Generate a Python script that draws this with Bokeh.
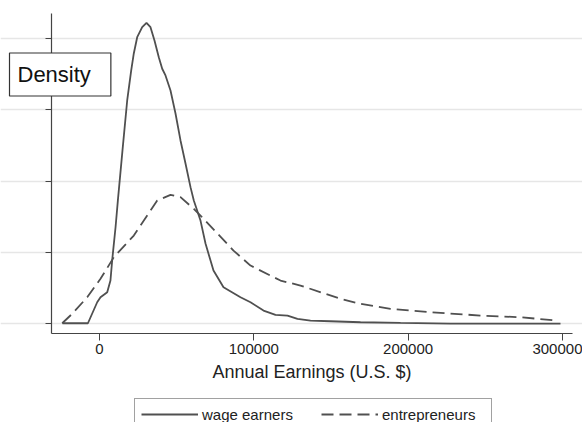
from bokeh.plotting import figure
from bokeh.models import (Range1d, FixedTicker, Label, Legend, LegendItem, ColumnDataSource,
                          BasicTickFormatter)
from bokeh.embed import file_html
from bokeh.resources import INLINE

# Annual earnings (U.S. $) and kernel density (in units of 1e-5)
wage_x = [-24000, -7500, -1500, 650, 5000, 7100, 8200, 10400, 11900, 14900, 17950,
          20550, 22230, 24430, 27670, 30460, 33050, 35640, 38430, 40640, 42770,
          46020, 49260, 52500, 55740, 58980, 61120, 65460, 68700, 73880, 80360,
          91380, 97860, 106290, 114070, 121840, 128320, 136750, 149710, 169150,
          195080, 227480, 298770]
wage_y = [0.004, 0.004, 0.151, 0.186, 0.221, 0.303, 0.443, 0.676, 0.863, 1.214, 1.564,
          1.774, 1.893, 2.007, 2.077, 2.108, 2.077, 1.984, 1.867, 1.786, 1.739,
          1.634, 1.473, 1.284, 1.123, 0.957, 0.863, 0.723, 0.562, 0.373, 0.256,
          0.186, 0.151, 0.093, 0.063, 0.058, 0.035, 0.023, 0.018, 0.011,
          0.006, 0.002, 0.002]

entre_x = [-24170, -17690, -7970, 650, 9270, 22230, 30910, 37400, 46020, 52500,
           61120, 65460, 86850, 97860, 117300, 130270, 156190, 169150, 188600,
           214520, 246930, 272850, 296630]
entre_y = [0.004, 0.070, 0.186, 0.315, 0.466, 0.618, 0.758, 0.863, 0.903, 0.887,
           0.805, 0.758, 0.513, 0.408, 0.303, 0.268, 0.175, 0.140, 0.105,
           0.081, 0.058, 0.046, 0.023]

x_ticks = [0, 100000, 200000, 300000]
y_ticks = [0, 0.5, 1.0, 1.5, 2.0]

# plotted region (axes extent)
X_AXIS_START, X_AXIS_END = -31110, 306550
Y_AXIS_START, Y_AXIS_END = -0.068, 2.175

FONT = "Liberation Sans"
LINE = "#505050"

p = figure(width=582, height=422, output_backend="svg", toolbar_location=None,
           x_range=Range1d(-64160, 313030), y_range=Range1d(-0.691, 2.264),
           min_border=0)
p.title.visible = False
p.outline_line_color = None
p.background_fill_color = "white"
p.border_fill_color = "white"

# grid
p.xgrid.visible = False
p.ygrid.grid_line_color = "#e6e6e6"
p.ygrid.grid_line_width = 1.5
p.ygrid.bounds = (X_AXIS_START, 305260)

# x axis
xa = p.xaxis[0]
xa.fixed_location = Y_AXIS_START
xa.bounds = (X_AXIS_START, X_AXIS_END)
xa.ticker = FixedTicker(ticks=x_ticks)
xa.formatter = BasicTickFormatter(use_scientific=False)
xa.minor_tick_line_color = None
xa.major_tick_out = 7
xa.major_tick_in = 0
xa.axis_line_color = "#444444"
xa.major_tick_line_color = "#444444"
xa.axis_line_width = 1.2
xa.major_label_text_font = FONT
xa.major_label_text_font_size = "15px"
xa.major_label_text_color = "#222222"
xa.major_label_standoff = 3
xa.axis_label = "Annual Earnings (U.S. $)"
xa.axis_label_text_font = FONT
xa.axis_label_text_font_size = "18px"
xa.axis_label_text_font_style = "normal"
xa.axis_label_text_color = "#222222"
xa.axis_label_standoff = 5

# y axis (no tick labels)
ya = p.yaxis[0]
ya.fixed_location = X_AXIS_START
ya.bounds = (Y_AXIS_START, Y_AXIS_END)
ya.ticker = FixedTicker(ticks=y_ticks)
ya.major_label_overrides = {t: "" for t in y_ticks}
ya.minor_tick_line_color = None
ya.major_tick_out = 6
ya.major_tick_in = 0
ya.axis_line_color = "#444444"
ya.major_tick_line_color = "#444444"
ya.axis_line_width = 1.2
ya.major_label_standoff = 0

src_w = ColumnDataSource(dict(x=wage_x, y=wage_y))
src_e = ColumnDataSource(dict(x=entre_x, y=entre_y))
r_w = p.line("x", "y", source=src_w, line_color=LINE, line_width=1.8)
r_e = p.line("x", "y", source=src_e, line_color=LINE, line_width=1.8, line_dash="12 6")

legend = Legend(items=[LegendItem(label="wage earners", renderers=[r_w]),
                       LegendItem(label="entrepreneurs", renderers=[r_e])],
                orientation="horizontal", location=(134, -8),
                label_text_font=FONT, label_text_font_size="15px", label_text_color="#222222",
                glyph_width=57, glyph_height=18, label_height=18, label_standoff=4,
                label_width=103, spacing=16, padding=6, margin=0,
                border_line_color="#444444", border_line_width=1.2,
                background_fill_color="white", background_fill_alpha=1.0)
p.add_layout(legend, "center")

dens = Label(x=9, y=348, x_units="screen", y_units="screen", text="Density",
             text_font=FONT, text_font_size="22px", text_color="#111111",
             text_align="left", text_baseline="middle",
             border_line_color="#333333", border_line_width=1.2,
             background_fill_color="white", background_fill_alpha=1.0,
             padding=(8, 20, 9, 9))
p.add_layout(dens)

open("out.html", "w").write(file_html(p, INLINE))
